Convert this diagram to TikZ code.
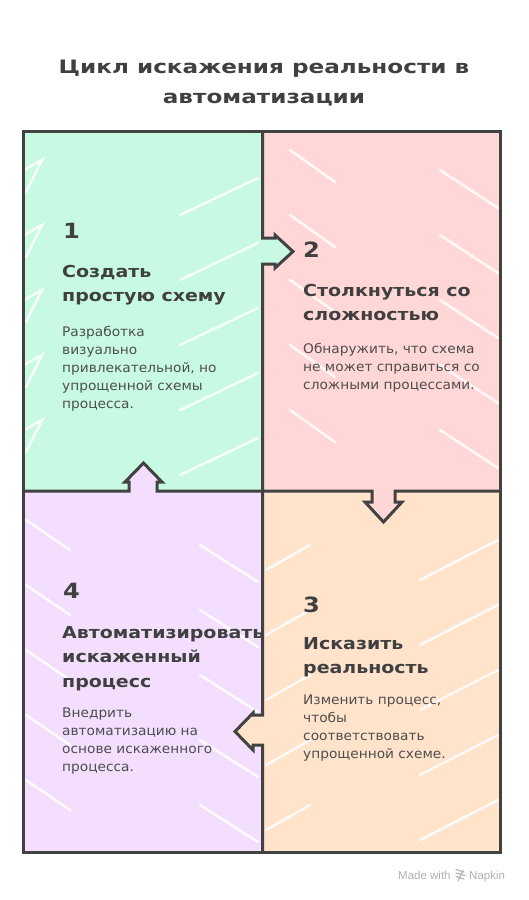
\documentclass[tikz,border=0pt]{standalone}
\usepackage{fontspec}
\setmainfont{DejaVu Sans}
\newfontfamily\titlefont[FakeStretch=1.25]{DejaVu Sans}
\newfontfamily\headfont[FakeStretch=1.15]{DejaVu Sans}
\newfontfamily\bodyfont[FakeStretch=1.04]{DejaVu Sans}
\newfontfamily\footfont{Liberation Sans}
\definecolor{ink}{HTML}{404040}
\definecolor{bodyink}{HTML}{4D4D4D}
\definecolor{gridink}{HTML}{424242}
\definecolor{qgreen}{HTML}{C8FAE3}
\definecolor{qpink}{HTML}{FFD7D6}
\definecolor{qpurple}{HTML}{F3DFFD}
\definecolor{qpeach}{HTML}{FFE3CB}
\definecolor{foot}{HTML}{B0B0B0}
\tikzset{
  titletext/.style={anchor=base, inner sep=0, font=\titlefont\bfseries\fontsize{18.5}{29}\selectfont, text=ink},
  numtext/.style={anchor=base west, inner sep=0, font=\headfont\bfseries\fontsize{21}{21}\selectfont, text=ink},
  headtext/.style={anchor=base west, inner sep=0, font=\headfont\bfseries\fontsize{16.5}{24.5}\selectfont, text=ink},
  bodytext/.style={anchor=base west, inner sep=0, font=\bodyfont\fontsize{13.2}{18}\selectfont, text=bodyink},
  gridline/.style={draw=gridink, line width=3pt, line join=miter},
  streak/.style={draw=white, line width=2.5pt, line cap=round, opacity=0.85},
  foottext/.style={anchor=base west, inner sep=0, font=\footfont\fontsize{11.5}{12}\selectfont, text=foot}
}
\begin{document}
\begin{tikzpicture}[x=1pt, y=-1pt]
\useasboundingbox (0,0) rectangle (528,900);
% quadrant fills
\fill[qgreen]  (23,131) rectangle (262.5,491);
\fill[qpink]   (262.5,131) rectangle (500,491);
\fill[qpurple] (23,491) rectangle (262.5,852);
\fill[qpeach]  (262.5,491) rectangle (500,852);
% hachure-like white streaks
\begin{scope}
\clip (23,131) rectangle (262.5,491);
\foreach \y in {170,235,300,365,430} {
  \draw[streak] (24,\y) -- (42,\y-10) -- (26,\y+22);
  \draw[streak] (180,\y+45) -- (258,\y+8);
}
\end{scope}
\begin{scope}
\clip (262.5,131) rectangle (500,491);
\foreach \y in {150,215,280,345,410} {
  \draw[streak] (290,\y) -- (335,\y+32);
  \draw[streak] (440,\y+20) -- (498,\y+58);
}
\end{scope}
\begin{scope}
\clip (23,491) rectangle (262.5,852);
\foreach \y in {520,585,650,715,780} {
  \draw[streak] (26,\y) -- (70,\y+30);
  \draw[streak] (200,\y+25) -- (258,\y+62);
}
\end{scope}
\begin{scope}
\clip (262.5,491) rectangle (500,852);
\foreach \y in {540,605,670,735,800} {
  \draw[streak] (266,\y+30) -- (310,\y+5);
  \draw[streak] (420,\y+40) -- (498,\y);
}
\end{scope}
% arrow interiors
\fill[qgreen]  (262.5,238) -- (275,238) -- (275,235) -- (293,251.5) -- (275,268) -- (275,264) -- (262.5,264) -- cycle;
\fill[qpink]   (372,491) -- (372,502) -- (365,502) -- (383.5,522) -- (402,502) -- (395,502) -- (395,491) -- cycle;
\fill[qpeach]  (262.5,715) -- (253,715) -- (253,713) -- (235,731.5) -- (253,750) -- (253,745) -- (262.5,745) -- cycle;
\fill[qpurple] (129,491) -- (129,482) -- (125,482) -- (143.5,463) -- (162,482) -- (157,482) -- (157,491) -- cycle;
% grid with arrow notches
\draw[gridline] (23,131) rectangle (500,852);
\draw[gridline] (262.5,131) -- (262.5,238) -- (275,238) -- (275,235) -- (293,251.5) -- (275,268) -- (275,264) -- (262.5,264)
  -- (262.5,715) -- (253,715) -- (253,713) -- (235,731.5) -- (253,750) -- (253,745) -- (262.5,745) -- (262.5,852);
\draw[gridline] (23,491) -- (129,491) -- (129,482) -- (125,482) -- (143.5,463) -- (162,482) -- (157,482) -- (157,491)
  -- (372,491) -- (372,502) -- (365,502) -- (383.5,522) -- (402,502) -- (395,502) -- (395,491) -- (500,491);
% title
\node[titletext] (t1) at (264,73) {Цикл искажения реальности в};
\node[titletext] (t2) at (264,103) {автоматизации};
% quadrant 1
\node[numtext] (n1) at (63,238) {1};
\node[headtext] (h1) at (62,277) {\parbox[t]{260pt}{\raggedright Создать\\простую схему}};
\node[bodytext] (b1) at (62,336) {\parbox[t]{220pt}{\raggedright Разработка\\визуально\\привлекательной, но\\упрощенной схемы\\процесса.}};
% quadrant 2
\node[numtext] (n2) at (303,257) {2};
\node[headtext] (h2) at (303,296) {\parbox[t]{220pt}{\raggedright Столкнуться со\\сложностью}};
\node[bodytext] (b2) at (303,353) {\parbox[t]{220pt}{\raggedright Обнаружить, что схема\\не может справиться со\\сложными процессами.}};
% quadrant 3
\node[numtext] (n3) at (303,612) {3};
\node[headtext] (h3) at (303,649) {\parbox[t]{220pt}{\raggedright Исказить\\реальность}};
\node[bodytext] (b3) at (303,704) {\parbox[t]{220pt}{\raggedright Изменить процесс,\\чтобы\\соответствовать\\упрощенной схеме.}};
% quadrant 4
\node[numtext] (n4) at (63,598) {4};
\node[headtext] (h4) at (62,638) {\parbox[t]{260pt}{\raggedright Автоматизировать\\искаженный\\процесс}};
\node[bodytext] (b4) at (62,717) {\parbox[t]{220pt}{\raggedright Внедрить\\автоматизацию на\\основе искаженного\\процесса.}};
% footer
\node[foottext] (f1) at (398,879) {Made with};
\draw[foot, line width=1.1pt, line cap=round] (456,869.5) -- (464,872) (456,873) -- (465,875.5) (456,876.5) -- (464,879) (458,881) -- (463,870.5);
\node[foottext] (f2) at (469,879) {Napkin};
\end{tikzpicture}
\end{document}
